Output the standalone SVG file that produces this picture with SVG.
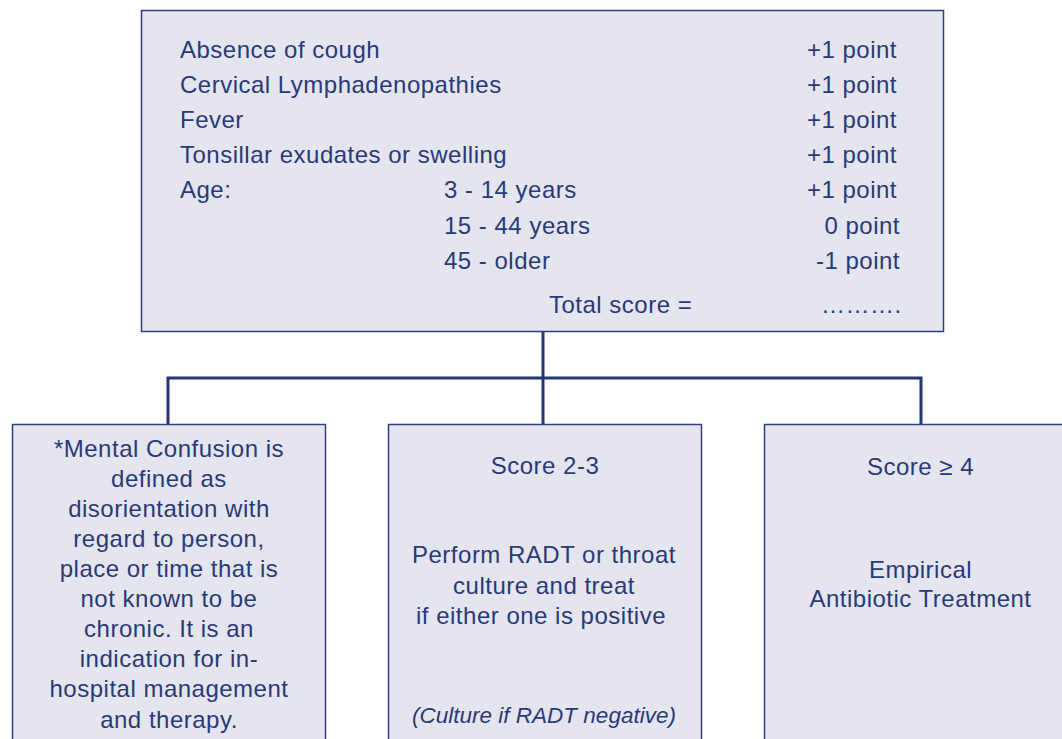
<svg xmlns="http://www.w3.org/2000/svg" width="1062" height="739" viewBox="0 0 1062 739">
  <style>
    .box { fill: #e4e5ee; stroke: #2f3f7e; stroke-width: 1.5; }
    .wire { fill: none; stroke: #25376f; stroke-width: 3; }
    text { font-family: "Liberation Sans", Arial, sans-serif; font-size: 24px; letter-spacing: 0.5px; fill: #2a3a78; }
    .c { text-anchor: middle; }
    .r { text-anchor: end; }
    .it { font-style: italic; font-size: 22.5px; letter-spacing: 0; }
  </style>

  <rect width="1062" height="739" fill="#ffffff"/>

  <!-- connectors: trunk from score box, bus, three drops -->
  <g id="connectors">
    <path class="wire" d="M543 331 V424"/>
    <path class="wire" d="M168 424 V378 H921 V424"/>
  </g>

  <!-- score card -->
  <g id="score-card">
    <rect class="box" x="141.5" y="10.5" width="802" height="321"/>
    <text x="180" y="58">Absence of cough</text>
    <text x="180" y="93">Cervical Lymphadenopathies</text>
    <text x="180" y="128">Fever</text>
    <text x="180" y="163">Tonsillar exudates or swelling</text>
    <text x="180" y="198">Age:</text>
    <text x="444" y="198">3 - 14 years</text>
    <text x="444" y="234">15 - 44 years</text>
    <text x="444" y="269">45 - older</text>
    <text class="r" x="897" y="58">+1 point</text>
    <text class="r" x="897" y="93">+1 point</text>
    <text class="r" x="897" y="128">+1 point</text>
    <text class="r" x="897" y="163">+1 point</text>
    <text class="r" x="897" y="198">+1 point</text>
    <text class="r" x="900" y="234">0 point</text>
    <text class="r" x="900" y="269">-1 point</text>
    <text x="549" y="313">Total score =</text>
    <text x="821" y="313">……….</text>
  </g>

  <!-- footnote box -->
  <g id="mental-confusion">
    <rect class="box" x="12.5" y="424.5" width="313" height="330"/>
    <text class="c" x="169" y="457">*Mental Confusion is</text>
    <text class="c" x="169" y="487">defined as</text>
    <text class="c" x="169" y="517">disorientation with</text>
    <text class="c" x="169" y="547">regard to person,</text>
    <text class="c" x="169" y="577">place or time that is</text>
    <text class="c" x="169" y="607">not known to be</text>
    <text class="c" x="169" y="637">chronic. It is an</text>
    <text class="c" x="169" y="667">indication for in-</text>
    <text class="c" x="169" y="697">hospital management</text>
    <text class="c" x="169" y="728">and therapy.</text>
  </g>

  <!-- score 2-3 -->
  <g id="score-2-3">
    <rect class="box" x="388.5" y="424.5" width="313" height="330"/>
    <text class="c" x="545" y="474">Score 2-3</text>
    <text class="c" x="544" y="563">Perform RADT or throat</text>
    <text class="c" x="544" y="594">culture and treat</text>
    <text class="c" x="541" y="624">if either one is positive</text>
    <text class="c it" x="544" y="723">(Culture if RADT negative)</text>
  </g>

  <!-- score 4 and above -->
  <g id="score-4-plus">
    <rect class="box" x="764.5" y="424.5" width="313" height="330"/>
    <text class="c" x="920.5" y="475">Score ≥ 4</text>
    <text class="c" x="920.5" y="578">Empirical</text>
    <text class="c" x="920.5" y="607">Antibiotic Treatment</text>
  </g>
</svg>
